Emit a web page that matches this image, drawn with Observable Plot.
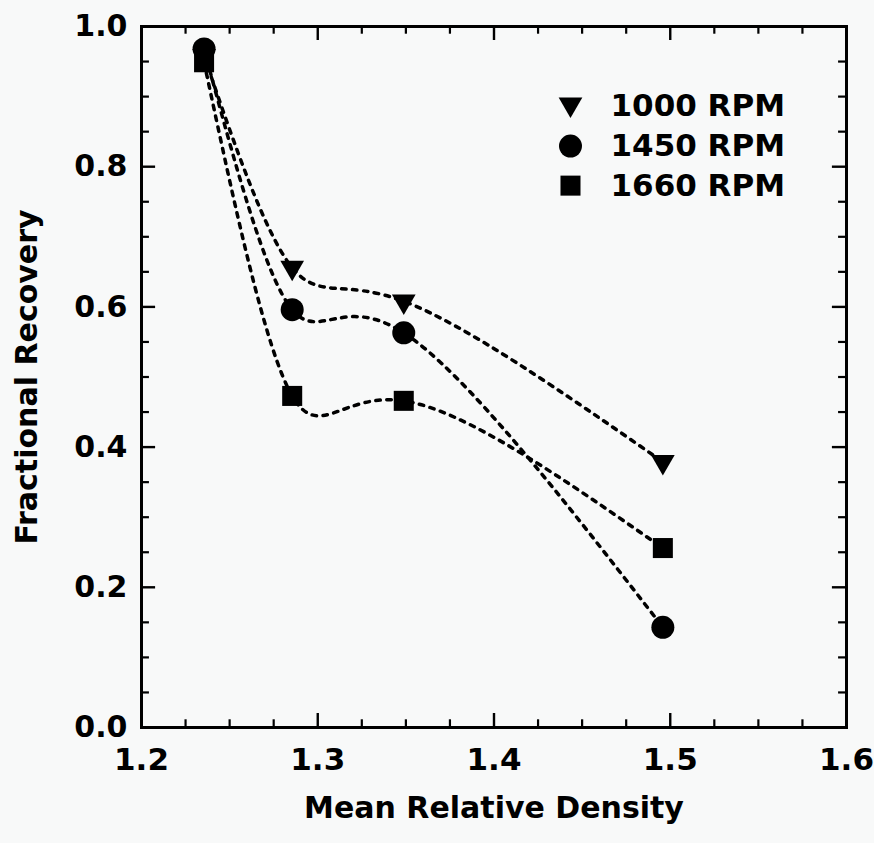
<!DOCTYPE html>
<html>
<head>
<meta charset="utf-8">
<script src="https://cdn.jsdelivr.net/npm/d3@7"></script>
<script src="https://cdn.jsdelivr.net/npm/@observablehq/plot@0.6"></script>
<style>
  html, body { margin: 0; padding: 0; background: #f8f9f9; }
  #chart svg { display: block; }
</style>
</head>
<body>
<div id="chart"></div>
<script>
// ---- data ----
const density = [1.2355, 1.2855, 1.3488, 1.4958];
const series = ["1000 RPM", "1450 RPM", "1660 RPM"];
const rpm1000 = [0.958, 0.656, 0.608, 0.379];
const rpm1450 = [0.968, 0.596, 0.563, 0.143];
const rpm1660 = [0.949, 0.473, 0.466, 0.256];
const symbols = ["triangle", "circle", "square"];

const xTickLabels = [1.2, 1.3, 1.4, 1.5, 1.6];
const yTickLabels = [0.0, 0.2, 0.4, 0.6, 0.8, 1.0];
const xMinorTicks = [1.225, 1.25, 1.275, 1.325, 1.35, 1.375, 1.425, 1.45, 1.475, 1.525, 1.55, 1.575];
const yMinorTicks = [0.05, 0.1, 0.15, 0.25, 0.3, 0.35, 0.45, 0.5, 0.55, 0.65, 0.7, 0.75, 0.85, 0.9, 0.95];

const xLabel = "Mean Relative Density";
const yLabel = "Fractional Recovery";

// ---- build table ----
const values = [rpm1000, rpm1450, rpm1660];
const rows = [];
series.forEach((s, i) => density.forEach((d, j) => rows.push({series: s, x: d, y: values[i][j], symbol: symbols[i]})));

const legendRows = series.map((s, i) => ({series: s, symbol: symbols[i], i}));

const font = "DejaVu Sans";
const symR = {triangle: 8.8, circle: 11.5, square: 11.3};
const symRot = {triangle: 180, circle: 0, square: 0};

const dotMarks = symbols.map(sym => Plot.dot(rows.filter(r => r.symbol === sym), {
  x: "x", y: "y", symbol: () => sym, r: symR[sym], rotate: symRot[sym], fill: "black", stroke: "none"
}));

// legend (placed in frame coordinates)
const legX = 1.4434, legTextX = 1.4661, legY0 = 0.886, legStep = 0.0565;
const legendDots = symbols.map((sym, i) => Plot.dot([legendRows[i]], {
  x: () => legX, y: () => legY0 - i * legStep + (sym === "triangle" ? 0.003 : 0),
  symbol: () => sym, r: symR[sym], rotate: symRot[sym], fill: "black", stroke: "none"
}));

const chart = Plot.plot({
  width: 874,
  height: 843,
  marginLeft: 141,
  marginRight: 28,
  marginTop: 26,
  marginBottom: 116,
  x: {domain: [1.2, 1.6]},
  y: {domain: [0, 1]},
  style: {background: "#f8f9f9", fontFamily: font, color: "black"},
  marks: [
    // minor & major inward ticks on all four sides
    Plot.ruleX(xMinorTicks, {x: d => d, y1: 0, y2: 0.011, strokeWidth: 2.2}),
    Plot.ruleX(xMinorTicks, {x: d => d, y1: 1, y2: 0.989, strokeWidth: 2.2}),
    Plot.ruleX(xTickLabels, {x: d => d, y1: 0, y2: 0.02, strokeWidth: 2.4}),
    Plot.ruleX(xTickLabels, {x: d => d, y1: 1, y2: 0.98, strokeWidth: 2.4}),
    Plot.ruleY(yMinorTicks, {y: d => d, x1: 1.2, x2: 1.2045, strokeWidth: 2.2}),
    Plot.ruleY(yMinorTicks, {y: d => d, x1: 1.6, x2: 1.5955, strokeWidth: 2.2}),
    Plot.ruleY(yTickLabels, {y: d => d, x1: 1.2, x2: 1.208, strokeWidth: 2.4}),
    Plot.ruleY(yTickLabels, {y: d => d, x1: 1.6, x2: 1.592, strokeWidth: 2.4}),
    Plot.frame({stroke: "black", strokeWidth: 3}),
    Plot.axisX({ticks: xTickLabels, tickSize: 0, tickPadding: 20, tickFormat: d3.format(".1f"),
      fontSize: 31, fontWeight: "bold", label: null}),
    Plot.axisY({ticks: yTickLabels, tickSize: 0, tickPadding: 14, tickFormat: d3.format(".1f"),
      fontSize: 30, fontWeight: "bold", label: null}),
    Plot.text([xLabel], {text: d => d, frameAnchor: "bottom", textAnchor: "middle", dy: 90, fontSize: 30,
      fontWeight: "bold"}),
    Plot.text([yLabel], {text: d => d, frameAnchor: "left", textAnchor: "middle", dx: -114, dy: 0, rotate: -90,
      fontSize: 30, fontWeight: "bold", letterSpacing: 1.5}),
    Plot.line(rows, {x: "x", y: "y", z: "series", curve: "natural", stroke: "black", strokeWidth: 3.5,
      strokeDasharray: "4.5,6.5", strokeLinecap: "round"}),
    ...dotMarks,
    ...legendDots,
    Plot.text(legendRows, {x: () => legTextX, y: d => legY0 - d.i * legStep, text: "series", textAnchor: "start",
      fontSize: 31, fontWeight: "bold"})
  ]
});
document.getElementById("chart").appendChild(chart);
</script>
</body>
</html>
